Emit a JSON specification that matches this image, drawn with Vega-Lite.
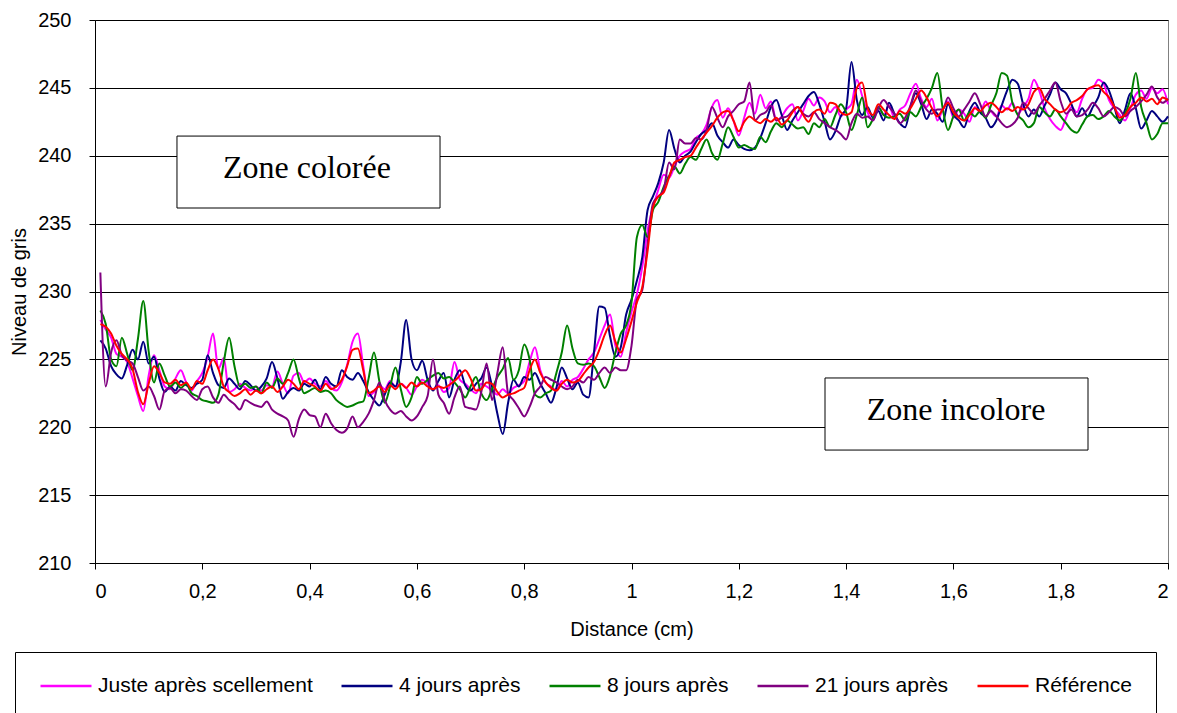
{
"$schema": "https://vega.github.io/schema/vega-lite/v6.json",
"width": 1073, "height": 543,
"autosize": {"type": "none"},
"padding": {"left": 95, "top": 20, "right": 9, "bottom": 150},
"background": "white",
"config": {
 "font": "Liberation Sans",
 "view": {"stroke": "#808080", "strokeWidth": 1},
 "axis": {"labelFont": "Liberation Sans", "titleFont": "Liberation Sans", "labelColor": "#000", "titleColor": "#000", "domainColor": "#000", "tickColor": "#000", "gridColor": "#000", "gridWidth": 1, "labelFontSize": 20, "titleFontSize": 20, "titleFontWeight": "normal", "tickSize": 6, "labelPadding": 12}
},
"data": {"values": [
{"x":0.01,"p":227.9,"n":226.4,"g":228.6,"v":231.4,"r":227.6},
{"x":0.02,"p":227.2,"n":225.8,"g":227.6,"v":223.0,"r":227.4},
{"x":0.03,"p":226.6,"n":224.5,"g":225.0,"v":225.5,"r":226.9},
{"x":0.04,"p":225.4,"n":223.9,"g":224.5,"v":226.4,"r":226.0},
{"x":0.05,"p":225.2,"n":223.6,"g":226.6,"v":225.3,"r":225.4},
{"x":0.06,"p":224.8,"n":224.6,"g":225.4,"v":224.9,"r":225.0},
{"x":0.07,"p":223.6,"n":225.7,"g":224.2,"v":224.7,"r":224.3},
{"x":0.08,"p":222.3,"n":225.0,"g":226.5,"v":223.7,"r":222.6},
{"x":0.09,"p":221.2,"n":226.3,"g":229.3,"v":222.7,"r":221.7},
{"x":0.10,"p":223.8,"n":224.7,"g":225.6,"v":223.0,"r":223.2},
{"x":0.11,"p":225.3,"n":225.2,"g":223.3,"v":222.3,"r":224.5},
{"x":0.12,"p":224.2,"n":223.6,"g":224.7,"v":221.3,"r":224.0},
{"x":0.13,"p":223.0,"n":222.6,"g":223.8,"v":222.7,"r":223.3},
{"x":0.14,"p":222.8,"n":223.0,"g":223.0,"v":222.9,"r":223.2},
{"x":0.15,"p":223.6,"n":222.7,"g":223.3,"v":222.5,"r":223.5},
{"x":0.16,"p":224.2,"n":223.4,"g":222.9,"v":222.8,"r":223.1},
{"x":0.17,"p":223.3,"n":223.1,"g":223.2,"v":222.7,"r":223.3},
{"x":0.18,"p":222.7,"n":222.9,"g":222.5,"v":222.3,"r":222.8},
{"x":0.19,"p":223.4,"n":223.2,"g":222.3,"v":222.0,"r":223.4},
{"x":0.20,"p":224.0,"n":223.5,"g":222.0,"v":222.8,"r":223.2},
{"x":0.21,"p":225.2,"n":225.3,"g":221.9,"v":223.0,"r":224.2},
{"x":0.22,"p":226.9,"n":224.0,"g":221.8,"v":222.2,"r":225.0},
{"x":0.23,"p":224.3,"n":223.1,"g":222.4,"v":221.8,"r":224.3},
{"x":0.24,"p":225.1,"n":222.9,"g":224.8,"v":222.4,"r":223.0},
{"x":0.25,"p":222.6,"n":223.6,"g":226.6,"v":222.0,"r":222.6},
{"x":0.26,"p":222.8,"n":223.2,"g":224.5,"v":221.7,"r":222.3},
{"x":0.27,"p":223.2,"n":222.8,"g":223.0,"v":221.3,"r":222.5},
{"x":0.28,"p":222.9,"n":223.4,"g":223.2,"v":222.0,"r":222.8},
{"x":0.29,"p":222.7,"n":223.1,"g":222.9,"v":221.8,"r":222.4},
{"x":0.30,"p":223.0,"n":222.7,"g":223.0,"v":221.6,"r":222.7},
{"x":0.31,"p":222.7,"n":223.0,"g":222.5,"v":221.5,"r":222.5},
{"x":0.32,"p":223.1,"n":223.6,"g":223.3,"v":221.9,"r":222.8},
{"x":0.33,"p":223.0,"n":224.8,"g":222.9,"v":221.3,"r":223.0},
{"x":0.34,"p":224.1,"n":223.6,"g":223.6,"v":221.0,"r":222.6},
{"x":0.35,"p":223.2,"n":222.1,"g":223.2,"v":220.8,"r":223.0},
{"x":0.36,"p":222.5,"n":222.6,"g":224.0,"v":220.5,"r":223.5},
{"x":0.37,"p":223.8,"n":222.9,"g":225.0,"v":219.3,"r":223.2},
{"x":0.38,"p":224.0,"n":222.7,"g":223.6,"v":220.6,"r":222.8},
{"x":0.39,"p":223.3,"n":223.2,"g":222.5,"v":221.3,"r":223.4},
{"x":0.40,"p":223.6,"n":223.0,"g":222.7,"v":220.9,"r":223.2},
{"x":0.41,"p":223.2,"n":223.5,"g":222.9,"v":220.8,"r":223.0},
{"x":0.42,"p":223.0,"n":222.8,"g":222.6,"v":220.0,"r":222.7},
{"x":0.43,"p":223.4,"n":223.7,"g":222.7,"v":221.0,"r":223.2},
{"x":0.44,"p":222.9,"n":223.2,"g":222.5,"v":220.3,"r":222.8},
{"x":0.45,"p":222.7,"n":223.0,"g":222.0,"v":219.8,"r":223.0},
{"x":0.46,"p":223.3,"n":224.2,"g":221.7,"v":219.6,"r":223.5},
{"x":0.47,"p":224.6,"n":223.7,"g":221.5,"v":219.9,"r":224.5},
{"x":0.48,"p":226.3,"n":223.5,"g":221.6,"v":220.8,"r":225.7},
{"x":0.49,"p":226.9,"n":224.0,"g":221.8,"v":220.0,"r":225.8},
{"x":0.50,"p":224.5,"n":223.4,"g":221.9,"v":220.4,"r":224.2},
{"x":0.51,"p":222.3,"n":222.6,"g":223.6,"v":221.0,"r":222.5},
{"x":0.52,"p":222.6,"n":222.0,"g":225.5,"v":222.0,"r":222.7},
{"x":0.53,"p":223.1,"n":221.6,"g":223.4,"v":223.3,"r":223.0},
{"x":0.54,"p":222.8,"n":222.4,"g":221.8,"v":222.0,"r":222.6},
{"x":0.55,"p":223.4,"n":223.3,"g":223.0,"v":221.3,"r":223.1},
{"x":0.56,"p":223.0,"n":223.0,"g":224.4,"v":221.0,"r":222.8},
{"x":0.57,"p":223.2,"n":224.8,"g":222.8,"v":221.2,"r":223.2},
{"x":0.58,"p":222.9,"n":227.9,"g":221.5,"v":220.8,"r":222.9},
{"x":0.59,"p":222.4,"n":225.0,"g":222.2,"v":220.5,"r":223.3},
{"x":0.60,"p":223.0,"n":224.2,"g":223.7,"v":220.8,"r":223.0},
{"x":0.61,"p":223.5,"n":224.9,"g":223.2,"v":221.5,"r":223.3},
{"x":0.62,"p":223.2,"n":223.5,"g":223.5,"v":222.3,"r":223.0},
{"x":0.63,"p":222.8,"n":222.7,"g":223.8,"v":225.0,"r":222.8},
{"x":0.64,"p":223.1,"n":223.4,"g":224.0,"v":222.4,"r":223.0},
{"x":0.65,"p":222.6,"n":224.0,"g":223.6,"v":221.8,"r":222.9},
{"x":0.66,"p":222.9,"n":222.2,"g":223.7,"v":221.0,"r":223.1},
{"x":0.67,"p":224.8,"n":223.5,"g":223.3,"v":222.2,"r":223.4},
{"x":0.68,"p":223.5,"n":224.2,"g":222.8,"v":223.0,"r":223.8},
{"x":0.69,"p":223.2,"n":223.1,"g":222.2,"v":221.5,"r":224.2},
{"x":0.70,"p":222.8,"n":222.7,"g":223.0,"v":221.4,"r":223.6},
{"x":0.71,"p":222.5,"n":223.2,"g":223.7,"v":221.3,"r":222.7},
{"x":0.72,"p":223.2,"n":223.6,"g":222.5,"v":222.6,"r":222.8},
{"x":0.73,"p":223.0,"n":224.4,"g":222.0,"v":224.7,"r":223.3},
{"x":0.74,"p":222.7,"n":223.0,"g":222.8,"v":222.0,"r":223.2},
{"x":0.75,"p":222.4,"n":221.0,"g":223.7,"v":224.0,"r":222.6},
{"x":0.76,"p":222.8,"n":219.5,"g":224.3,"v":225.9,"r":222.2},
{"x":0.77,"p":222.5,"n":221.8,"g":225.1,"v":222.5,"r":222.4},
{"x":0.78,"p":222.9,"n":223.5,"g":223.5,"v":222.0,"r":222.5},
{"x":0.79,"p":223.1,"n":223.0,"g":224.2,"v":221.4,"r":222.7},
{"x":0.80,"p":223.4,"n":223.7,"g":226.1,"v":220.8,"r":222.9},
{"x":0.81,"p":224.8,"n":223.5,"g":225.0,"v":221.5,"r":224.2},
{"x":0.82,"p":225.9,"n":224.0,"g":222.4,"v":222.5,"r":225.0},
{"x":0.83,"p":224.2,"n":223.2,"g":222.2,"v":223.0,"r":224.0},
{"x":0.84,"p":223.3,"n":222.5,"g":222.5,"v":223.7,"r":223.3},
{"x":0.85,"p":223.0,"n":221.8,"g":222.7,"v":223.5,"r":222.9},
{"x":0.86,"p":222.7,"n":222.9,"g":224.0,"v":223.3,"r":222.7},
{"x":0.87,"p":223.4,"n":224.4,"g":225.5,"v":223.0,"r":223.2},
{"x":0.88,"p":223.0,"n":223.6,"g":227.5,"v":222.8,"r":223.5},
{"x":0.89,"p":223.5,"n":222.8,"g":225.8,"v":223.0,"r":223.3},
{"x":0.90,"p":223.7,"n":223.3,"g":224.7,"v":223.5,"r":223.4},
{"x":0.91,"p":224.3,"n":222.4,"g":224.6,"v":223.3,"r":223.9},
{"x":0.92,"p":225.0,"n":222.2,"g":224.7,"v":223.7,"r":224.4},
{"x":0.93,"p":225.5,"n":225.5,"g":224.5,"v":223.5,"r":224.8},
{"x":0.94,"p":226.5,"n":228.9,"g":223.7,"v":224.0,"r":225.7},
{"x":0.95,"p":227.5,"n":228.8,"g":222.9,"v":224.4,"r":226.8},
{"x":0.96,"p":228.3,"n":226.7,"g":223.8,"v":224.0,"r":227.5},
{"x":0.97,"p":226.0,"n":225.2,"g":225.5,"v":224.4,"r":226.3},
{"x":0.98,"p":225.2,"n":225.9,"g":226.9,"v":224.2,"r":225.5},
{"x":0.99,"p":227.0,"n":228.3,"g":227.5,"v":224.2,"r":226.5},
{"x":1.00,"p":228.5,"n":229.4,"g":229.2,"v":226.0,"r":227.8},
{"x":1.01,"p":229.8,"n":230.8,"g":234.0,"v":229.4,"r":229.2},
{"x":1.02,"p":231.8,"n":232.5,"g":234.9,"v":230.1,"r":230.3},
{"x":1.03,"p":234.5,"n":236.0,"g":234.0,"v":233.5,"r":233.0},
{"x":1.04,"p":236.2,"n":237.0,"g":236.0,"v":236.5,"r":236.2},
{"x":1.05,"p":237.5,"n":238.0,"g":236.6,"v":237.0,"r":237.0},
{"x":1.06,"p":238.6,"n":239.5,"g":237.7,"v":237.5,"r":237.3},
{"x":1.07,"p":238.4,"n":241.9,"g":238.5,"v":239.5,"r":238.4},
{"x":1.08,"p":239.2,"n":240.5,"g":239.2,"v":239.0,"r":239.5},
{"x":1.09,"p":240.0,"n":239.5,"g":238.7,"v":241.2,"r":239.7},
{"x":1.10,"p":240.3,"n":240.0,"g":239.4,"v":240.9,"r":239.9},
{"x":1.11,"p":240.5,"n":240.3,"g":239.9,"v":240.9,"r":240.0},
{"x":1.12,"p":241.3,"n":241.0,"g":239.7,"v":241.3,"r":240.6},
{"x":1.13,"p":241.6,"n":241.6,"g":240.5,"v":241.2,"r":241.2},
{"x":1.14,"p":242.3,"n":241.9,"g":241.2,"v":241.9,"r":241.7},
{"x":1.15,"p":243.6,"n":242.4,"g":240.2,"v":243.6,"r":242.2},
{"x":1.16,"p":244.1,"n":241.5,"g":239.7,"v":242.8,"r":242.8},
{"x":1.17,"p":242.8,"n":241.0,"g":240.9,"v":242.1,"r":243.2},
{"x":1.18,"p":243.5,"n":240.6,"g":242.1,"v":242.9,"r":243.3},
{"x":1.19,"p":242.6,"n":241.2,"g":241.4,"v":243.3,"r":242.6},
{"x":1.20,"p":241.5,"n":240.8,"g":240.6,"v":243.8,"r":241.8},
{"x":1.21,"p":242.8,"n":240.5,"g":240.8,"v":244.0,"r":242.5},
{"x":1.22,"p":243.9,"n":240.4,"g":240.6,"v":245.4,"r":242.9},
{"x":1.23,"p":243.1,"n":240.6,"g":240.5,"v":242.6,"r":242.6},
{"x":1.24,"p":244.5,"n":241.3,"g":241.4,"v":243.0,"r":242.4},
{"x":1.25,"p":243.5,"n":242.4,"g":241.0,"v":243.2,"r":242.7},
{"x":1.26,"p":244.0,"n":243.6,"g":241.8,"v":243.7,"r":242.5},
{"x":1.27,"p":242.6,"n":244.1,"g":242.4,"v":242.6,"r":242.8},
{"x":1.28,"p":242.9,"n":243.0,"g":242.1,"v":242.8,"r":242.3},
{"x":1.29,"p":243.5,"n":241.9,"g":242.6,"v":242.9,"r":242.6},
{"x":1.30,"p":243.8,"n":242.6,"g":242.3,"v":243.3,"r":243.2},
{"x":1.31,"p":242.6,"n":243.2,"g":242.0,"v":243.6,"r":243.6},
{"x":1.32,"p":243.3,"n":243.8,"g":242.1,"v":243.1,"r":243.0},
{"x":1.33,"p":244.2,"n":244.4,"g":241.6,"v":242.9,"r":242.5},
{"x":1.34,"p":243.7,"n":244.7,"g":242.4,"v":243.2,"r":243.2},
{"x":1.35,"p":244.3,"n":243.8,"g":242.1,"v":242.7,"r":243.4},
{"x":1.36,"p":244.0,"n":242.5,"g":242.7,"v":242.4,"r":243.1},
{"x":1.37,"p":243.2,"n":241.2,"g":242.1,"v":242.1,"r":243.9},
{"x":1.38,"p":243.6,"n":241.8,"g":243.0,"v":241.9,"r":243.8},
{"x":1.39,"p":242.9,"n":242.9,"g":243.8,"v":241.6,"r":243.2},
{"x":1.40,"p":243.4,"n":243.5,"g":243.2,"v":241.2,"r":243.0},
{"x":1.41,"p":243.8,"n":246.9,"g":241.9,"v":242.4,"r":243.2},
{"x":1.42,"p":245.6,"n":244.1,"g":243.0,"v":243.1,"r":245.0},
{"x":1.43,"p":244.4,"n":243.0,"g":244.3,"v":242.8,"r":245.4},
{"x":1.44,"p":243.2,"n":243.6,"g":242.1,"v":242.9,"r":243.5},
{"x":1.45,"p":242.6,"n":242.8,"g":242.7,"v":242.6,"r":243.0},
{"x":1.46,"p":243.6,"n":243.3,"g":243.6,"v":243.5,"r":243.8},
{"x":1.47,"p":243.0,"n":242.6,"g":243.0,"v":244.1,"r":243.4},
{"x":1.48,"p":243.7,"n":243.9,"g":242.8,"v":243.6,"r":243.0},
{"x":1.49,"p":242.8,"n":243.1,"g":242.9,"v":243.1,"r":242.7},
{"x":1.50,"p":243.4,"n":242.4,"g":243.1,"v":242.4,"r":243.3},
{"x":1.51,"p":243.7,"n":242.1,"g":242.6,"v":242.8,"r":243.1},
{"x":1.52,"p":244.6,"n":243.6,"g":243.2,"v":243.7,"r":243.5},
{"x":1.53,"p":245.3,"n":244.6,"g":242.9,"v":244.8,"r":244.2},
{"x":1.54,"p":244.2,"n":243.8,"g":243.6,"v":244.0,"r":244.8},
{"x":1.55,"p":243.6,"n":242.7,"g":244.2,"v":243.4,"r":244.3},
{"x":1.56,"p":244.2,"n":243.4,"g":245.0,"v":243.1,"r":243.5},
{"x":1.57,"p":242.6,"n":243.1,"g":246.1,"v":243.4,"r":242.9},
{"x":1.58,"p":243.4,"n":242.5,"g":243.5,"v":243.4,"r":243.4},
{"x":1.59,"p":244.0,"n":243.8,"g":241.9,"v":244.3,"r":243.9},
{"x":1.60,"p":242.8,"n":243.0,"g":242.9,"v":243.5,"r":243.2},
{"x":1.61,"p":243.4,"n":242.6,"g":243.4,"v":242.9,"r":242.8},
{"x":1.62,"p":243.1,"n":242.1,"g":242.6,"v":243.4,"r":242.6},
{"x":1.63,"p":242.5,"n":243.3,"g":243.2,"v":244.0,"r":243.0},
{"x":1.64,"p":243.6,"n":243.9,"g":242.9,"v":244.6,"r":243.5},
{"x":1.65,"p":243.2,"n":243.2,"g":243.3,"v":243.8,"r":243.3},
{"x":1.66,"p":244.0,"n":242.8,"g":242.8,"v":242.9,"r":243.7},
{"x":1.67,"p":243.3,"n":242.1,"g":243.7,"v":243.3,"r":243.9},
{"x":1.68,"p":242.9,"n":242.6,"g":244.6,"v":242.9,"r":243.6},
{"x":1.69,"p":243.7,"n":243.7,"g":246.1,"v":242.4,"r":243.2},
{"x":1.70,"p":243.4,"n":244.8,"g":245.9,"v":242.1,"r":243.5},
{"x":1.71,"p":243.9,"n":245.6,"g":243.9,"v":242.3,"r":243.3},
{"x":1.72,"p":243.1,"n":245.3,"g":243.0,"v":242.8,"r":243.6},
{"x":1.73,"p":243.6,"n":243.8,"g":242.6,"v":243.9,"r":243.4},
{"x":1.74,"p":244.2,"n":242.9,"g":242.1,"v":243.5,"r":243.8},
{"x":1.75,"p":245.6,"n":243.4,"g":242.4,"v":243.1,"r":244.7},
{"x":1.76,"p":244.8,"n":242.9,"g":243.6,"v":243.7,"r":245.0},
{"x":1.77,"p":243.5,"n":243.7,"g":243.2,"v":244.2,"r":244.2},
{"x":1.78,"p":242.7,"n":244.5,"g":242.9,"v":244.8,"r":243.8},
{"x":1.79,"p":242.2,"n":245.4,"g":243.4,"v":245.4,"r":243.4},
{"x":1.80,"p":241.9,"n":244.9,"g":242.9,"v":244.0,"r":243.2},
{"x":1.81,"p":242.8,"n":244.6,"g":242.4,"v":243.1,"r":243.4},
{"x":1.82,"p":243.6,"n":243.8,"g":241.9,"v":243.4,"r":243.9},
{"x":1.83,"p":243.2,"n":242.9,"g":241.7,"v":242.9,"r":244.1},
{"x":1.84,"p":244.2,"n":243.5,"g":242.3,"v":243.0,"r":244.4},
{"x":1.85,"p":244.9,"n":242.9,"g":242.9,"v":243.4,"r":244.9},
{"x":1.86,"p":245.0,"n":243.6,"g":243.0,"v":243.9,"r":245.1},
{"x":1.87,"p":245.6,"n":244.3,"g":242.7,"v":243.5,"r":245.2},
{"x":1.88,"p":245.3,"n":245.4,"g":242.9,"v":242.9,"r":244.7},
{"x":1.89,"p":244.1,"n":244.8,"g":243.3,"v":243.2,"r":244.3},
{"x":1.90,"p":243.5,"n":243.6,"g":242.9,"v":243.6,"r":243.6},
{"x":1.91,"p":243.0,"n":242.4,"g":242.6,"v":243.4,"r":242.8},
{"x":1.92,"p":242.6,"n":243.4,"g":243.1,"v":242.9,"r":243.0},
{"x":1.93,"p":243.5,"n":244.6,"g":244.2,"v":243.3,"r":243.6},
{"x":1.94,"p":244.5,"n":243.5,"g":246.1,"v":243.6,"r":243.9},
{"x":1.95,"p":244.8,"n":242.0,"g":243.6,"v":244.0,"r":244.3},
{"x":1.96,"p":244.2,"n":242.6,"g":242.4,"v":244.5,"r":244.0},
{"x":1.97,"p":245.0,"n":243.3,"g":241.2,"v":245.1,"r":244.2},
{"x":1.98,"p":244.6,"n":242.9,"g":241.6,"v":244.3,"r":243.8},
{"x":1.99,"p":244.9,"n":242.5,"g":242.4,"v":243.9,"r":244.3},
{"x":2.00,"p":243.8,"n":242.9,"g":242.4,"v":244.2,"r":244.1}
]},
"layer": [
 {
  "data": {"values": [
   {"x1": 0.1528, "x2": 0.6431, "y1": 241.45, "y2": 236.15},
   {"x1": 1.3607, "x2": 1.8509, "y1": 223.63, "y2": 218.32}
  ]},
  "mark": {"type": "rect", "fill": "white", "stroke": "black", "strokeWidth": 1},
  "encoding": {
   "x": {"field": "x1", "type": "quantitative", "scale": {"domain": [0, 2], "nice": false, "zero": false}, "title": "Distance (cm)"},
   "x2": {"field": "x2"},
   "y": {"field": "y1", "type": "quantitative", "scale": {"domain": [210, 250], "nice": false, "zero": false}, "title": "Niveau de gris"},
   "y2": {"field": "y2"}
  }
 },
 {
  "data": {"values": [
   {"tx": 0.395, "ty": 239.1, "t": "Zone colorée"},
   {"tx": 1.605, "ty": 221.27, "t": "Zone incolore"}
  ]},
  "mark": {"type": "text", "font": "Liberation Serif", "fontSize": 32, "color": "black", "align": "center", "baseline": "middle"},
  "encoding": {
   "x": {"field": "tx", "type": "quantitative", "title": "Distance (cm)"},
   "y": {"field": "ty", "type": "quantitative", "title": "Niveau de gris"},
   "text": {"field": "t"}
  }
 },
 {
  "transform": [{"fold": ["p", "n", "g", "v", "r"], "as": ["key", "val"]}],
  "mark": {"type": "line", "strokeWidth": 2, "interpolate": "monotone"},
  "encoding": {
   "x": {"field": "x", "type": "quantitative", "title": "Distance (cm)",
    "axis": {"values": [0, 0.2, 0.4, 0.6, 0.8, 1, 1.2, 1.4, 1.6, 1.8, 2], "labelExpr": "replace(format(datum.value, '.1~f'), '.', ',')", "grid": false, "titlePadding": 18}},
   "y": {"field": "val", "type": "quantitative", "title": "Niveau de gris",
    "axis": {"values": [210, 215, 220, 225, 230, 235, 240, 245, 250], "grid": true, "labelPadding": 18, "titlePadding": 8}},
   "color": {"field": "key", "type": "nominal",
    "scale": {"domain": ["p", "n", "g", "v", "r"], "range": ["#FF00FF", "#000080", "#008000", "#800080", "#FF0000"]},
    "legend": {"orient": "none", "legendX": -80, "legendY": 632, "direction": "horizontal", "title": null,
     "symbolType": "stroke", "symbolSize": 2600, "symbolStrokeWidth": 2.5, "labelFontSize": 21, "labelFont": "Liberation Sans", "labelColor": "black", "labelLimit": 600,
     "clipHeight": 20, "strokeColor": "black", "padding": 24, "columnPadding": 27, "labelOffset": 5,
     "labelExpr": "datum.label == 'p' ? 'Juste après scellement' : datum.label == 'n' ? '4 jours après' : datum.label == 'g' ? '8 jours après' : datum.label == 'v' ? '21 jours après' : 'Référence'"}}
  }
 }
]
}
